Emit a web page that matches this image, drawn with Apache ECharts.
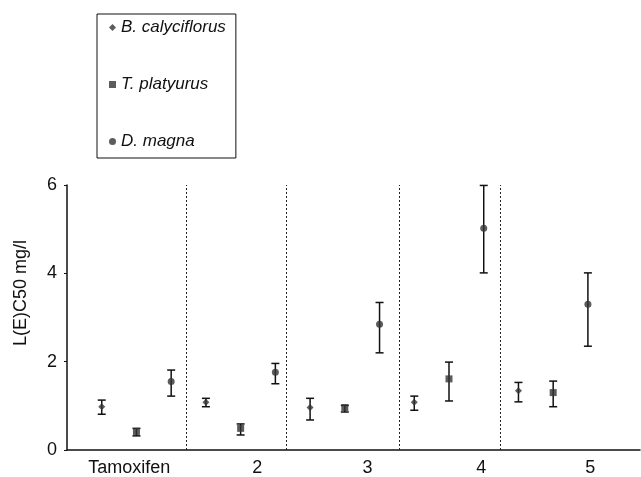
<!DOCTYPE html>
<html>
<head>
<meta charset="utf-8">
<script src="https://cdn.jsdelivr.net/npm/echarts@6/dist/echarts.min.js"></script>
<style>html,body{margin:0;padding:0;background:#fff}#c{width:641px;height:477px}</style>
</head>
<body>
<div id="c"></div>
<script>
// ---- data ----
var categories = ['Tamoxifen', '2', '3', '4', '5'];
var species = ['B. calyciflorus', 'T. platyurus', 'D. magna'];
var bMean = [0.98, 1.08, 0.96, 1.08, 1.34];
var bLow  = [0.81, 0.98, 0.68, 0.90, 1.09];
var bHigh = [1.13, 1.17, 1.17, 1.22, 1.53];
var tMean = [0.42, 0.49, 0.96, 1.61, 1.30];
var tLow  = [0.32, 0.34, 0.86, 1.11, 0.98];
var tHigh = [0.49, 0.59, 1.01, 1.99, 1.56];
var dMean = [1.55, 1.76, 2.85, 5.02, 3.30];
var dLow  = [1.22, 1.50, 2.20, 4.01, 2.35];
var dHigh = [1.81, 1.96, 3.34, 5.99, 4.01];
var yTicks = [0, 2, 4, 6];
// axis positions of category labels and group dividers (in slot units)
var labelPos = [0.79, 4.48, 7.65, 10.93, 14.07];
var dividerPos = [2.42, 5.32, 8.58, 11.49];

var means = [bMean, tMean, dMean];
var lows = [bLow, tLow, dLow];
var highs = [bHigh, tHigh, dHigh];
var symbols = ['diamond', 'rect', 'circle'];
var symSizes = [7, 7, 7];
var FONT = '"Liberation Sans", Arial, Helvetica, sans-serif';

var series = [];
species.forEach(function (name, s) {
  var pts = [], bars = [];
  categories.forEach(function (c, g) {
    var x = g * 3 + s;
    pts.push([x, means[s][g]]);
    bars.push([x, lows[s][g], highs[s][g]]);
  });
  series.push({
    type: 'custom',
    name: name + ' err',
    data: bars,
    z: 2,
    silent: true,
    renderItem: function (params, api) {
      var x = api.value(0);
      var lo = api.coord([x, api.value(1)]);
      var hi = api.coord([x, api.value(2)]);
      var w = 4;
      var st = { stroke: '#111', lineWidth: 1.5 };
      return {
        type: 'group',
        children: [
          { type: 'line', shape: { x1: lo[0], y1: lo[1], x2: hi[0], y2: hi[1] }, style: st },
          { type: 'line', shape: { x1: lo[0] - w, y1: lo[1], x2: lo[0] + w, y2: lo[1] }, style: st },
          { type: 'line', shape: { x1: hi[0] - w, y1: hi[1], x2: hi[0] + w, y2: hi[1] }, style: st }
        ]
      };
    }
  });
  series.push({
    type: 'scatter',
    name: name,
    data: pts,
    symbol: symbols[s],
    symbolSize: symSizes[s],
    z: 3,
    itemStyle: { color: '#333' },
    markLine: s === 0 ? {
      silent: true,
      symbol: ['none', 'none'],
      label: { show: false },
      lineStyle: { color: '#222', type: [2, 2], width: 1 },
      data: dividerPos.map(function (v) { return { xAxis: v }; })
    } : undefined
  });
});

var chart = echarts.init(document.getElementById('c'), null, { renderer: 'canvas' });
chart.setOption({
  animation: false,
  backgroundColor: '#fff',
  textStyle: { fontFamily: FONT },
  grid: { left: 67, right: 1, top: 185, bottom: 25, containLabel: false },
  legend: {
    data: species.map(function (n, i) { return { name: n, icon: symbols[i] }; }),
    orient: 'vertical',
    left: 97,
    top: 14,
    padding: [5, 10, 8, 12],
    itemGap: 40,
    itemWidth: 7,
    itemHeight: 7,
    borderColor: '#111',
    borderWidth: 1,
    selectedMode: false,
    textStyle: { fontStyle: 'italic', fontSize: 17, color: '#111', fontFamily: FONT }
  },
  xAxis: {
    type: 'value',
    min: -1,
    max: 15.5,
    splitLine: { show: false },
    axisLine: { show: true, onZero: false, lineStyle: { color: '#111', width: 1.5 } },
    axisTick: { show: false },
    axisLabel: {
      customValues: labelPos,
      formatter: function (v) {
        var i = labelPos.indexOf(v);
        return i >= 0 ? categories[i] : '';
      },
      fontSize: 18,
      color: '#111',
      margin: 9,
      fontFamily: FONT
    }
  },
  yAxis: {
    type: 'value',
    min: 0,
    max: 6,
    interval: 2,
    splitLine: { show: false },
    axisLine: { show: true, onZero: false, lineStyle: { color: '#111', width: 1.5 } },
    axisTick: { show: true, length: 3, lineStyle: { color: '#111' } },
    axisLabel: {
      fontSize: 18,
      color: '#111',
      margin: 10,
      fontFamily: FONT,
      formatter: function (v) { return yTicks.indexOf(v) >= 0 ? String(v) : ''; }
    }
  },
  graphic: [{
    type: 'text',
    x: 21,
    y: 293,
    rotation: Math.PI / 2,
    style: {
      text: 'L(E)C50 mg/l',
      fontSize: 18,
      fontFamily: FONT,
      fill: '#111',
      align: 'center',
      verticalAlign: 'middle'
    }
  }],
  series: series
});
</script>
</body>
</html>
